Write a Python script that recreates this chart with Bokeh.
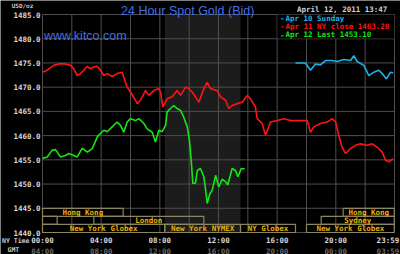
from bokeh.plotting import figure
from bokeh.models import Range1d, Label, BoxAnnotation, ColumnDataSource
from bokeh.core.properties import value
from bokeh.embed import file_html
from bokeh.resources import INLINE

# ---------------- data (hours, NY time) ----------------
apr11_time = [0.00, 0.32, 0.77, 1.11, 1.57, 1.91, 2.13, 2.37, 2.59, 2.82, 3.05, 3.27, 3.50, 3.73,
              3.95, 4.18, 4.41, 4.75, 5.09, 5.43, 5.54, 5.77, 6.00, 6.34, 6.46, 6.68, 7.02, 7.25,
              7.59, 7.93, 8.05, 8.20, 8.50, 8.84, 9.18, 9.41, 9.75, 9.98, 10.21, 10.66, 11.00,
              11.23, 11.45, 11.91, 12.14, 12.48, 12.70, 12.93, 13.27, 13.62, 13.96, 14.18, 14.52,
              14.64, 14.98, 15.20, 15.55, 16.00, 16.45, 16.91, 18.05, 18.27, 18.50, 18.95, 19.41,
              19.75, 19.98, 20.20, 20.43, 20.66, 21.00, 21.34, 21.68, 22.14, 22.48, 22.82, 23.16,
              23.39, 23.61, 23.91]
apr11_price = [1473.1, 1473.5, 1474.5, 1474.8, 1474.8, 1474.5, 1473.8, 1472.4, 1472.8, 1473.5,
               1474.3, 1473.8, 1474.2, 1474.3, 1473.5, 1472.4, 1472.8, 1472.2, 1472.8, 1473.1,
               1472.1, 1470.0, 1469.0, 1467.3, 1466.6, 1467.3, 1469.3, 1468.3, 1469.3, 1469.7,
               1469.0, 1465.9, 1467.6, 1468.0, 1469.3, 1468.3, 1470.0, 1469.7, 1469.0, 1466.9,
               1469.7, 1471.0, 1469.7, 1469.3, 1468.0, 1467.3, 1465.6, 1466.2, 1466.6, 1466.9,
               1468.3, 1467.6, 1465.9, 1463.5, 1462.5, 1460.1, 1462.8, 1463.1, 1463.5, 1463.1,
               1463.1, 1460.7, 1461.8, 1462.5, 1462.8, 1463.5, 1462.8, 1460.1, 1457.6, 1456.3,
               1457.3, 1458.0, 1458.3, 1458.0, 1458.3, 1457.6, 1456.6, 1454.9, 1454.6, 1455.2]

apr12_time = [0.00, 0.32, 0.66, 0.89, 1.23, 1.57, 1.79, 2.05, 2.37, 2.71, 3.05, 3.39, 3.73, 3.84,
              4.18, 4.41, 4.75, 5.09, 5.32, 5.54, 5.77, 6.00, 6.34, 6.57, 6.91, 7.14, 7.48, 7.70,
              7.93, 8.16, 8.39, 8.50, 8.73, 8.95, 9.18, 9.41, 9.63, 9.87, 10.02, 10.14, 10.25,
              10.43, 10.55, 10.77, 11.00, 11.11, 11.23, 11.41, 11.57, 11.80, 12.02, 12.25, 12.48,
              12.63, 12.93, 13.16, 13.32, 13.55, 13.79]
apr12_price = [1455.3, 1455.6, 1457.0, 1457.1, 1455.6, 1455.9, 1456.3, 1456.0, 1455.6, 1457.4,
               1456.6, 1457.3, 1459.7, 1460.1, 1461.1, 1460.8, 1461.8, 1462.8, 1462.1, 1460.7,
               1462.8, 1463.5, 1463.1, 1463.5, 1462.5, 1461.4, 1460.7, 1458.7, 1461.1, 1460.8,
               1462.1, 1464.9, 1465.6, 1466.2, 1465.6, 1465.2, 1463.8, 1461.8, 1459.0, 1454.9,
               1450.1, 1450.2, 1452.8, 1453.2, 1451.5, 1449.1, 1446.0, 1448.0, 1448.7, 1451.8,
               1449.4, 1451.0, 1450.5, 1449.8, 1453.2, 1452.8, 1451.5, 1453.2, 1453.1]

apr10_time = [17.25, 17.93, 18.27, 18.61, 18.95, 19.30, 19.75, 20.09, 20.54, 21.00, 21.23, 21.45,
              21.91, 22.25, 22.59, 22.93, 23.16, 23.45, 23.73, 23.91]
apr10_price = [1475.0, 1475.0, 1473.5, 1474.8, 1474.6, 1475.5, 1475.5, 1475.3, 1475.7, 1475.5,
               1476.5, 1475.3, 1474.5, 1472.4, 1473.1, 1473.5, 1472.8, 1471.7, 1473.1, 1472.9]

ny_close = 1463.20
last_price = 1453.10

y_ticks = [1440, 1445, 1450, 1455, 1460, 1465, 1470, 1475, 1480, 1485]
x_grid_ticks = [0, 2, 4, 6, 8, 10, 12, 14, 16, 18, 20, 22, 24]
x_label_ticks = [0, 4, 8, 12, 16, 20, 23.55]
ny_labels = ["00:00", "04:00", "08:00", "12:00", "16:00", "20:00", "23:59"]
gmt_labels = ["04:00", "08:00", "12:00", "16:00", "20:00", "00:00", "03:59"]

sess_name = ["Hong Kong", "Hong Kong", "", "London", "Sydney",
             "New York Globex", "New York NYMEX", "NY Globex", "New York Globex"]
sess_row = [0, 0, 1, 1, 1, 2, 2, 2, 2]
sess_start = [0.0, 20.5, 0.0, 3.5, 19.0, 0.0, 8 + 20 / 60, 13.5, 18.0]
sess_end = [5.5, 23 + 59 / 60, 1.0, 11.0, 23 + 59 / 60, 8 + 20 / 60, 13.5, 17.25, 23 + 59 / 60]

# ---------------- layout helpers (pixel -> data, for placing text) ----------------
W, H = 400, 254
L, R, T, B = 42, 6, 14, 22
X0, X1 = 0, 24
Y0, Y1 = 1440, 1485


def X(px):
    return X0 + (px - L) / (W - L - R) * (X1 - X0)


def Y(py):
    return Y1 - (py - T) / (H - T - B) * (Y1 - Y0)


MONO = "DejaVu Sans Mono"
GRID = "#4e4e4e"
RED = "#ff1414"
GREEN = "#14e614"
CYAN = "#1cb2ec"
BLUE = "#4470e6"
GOLD = "#e8b000"
BOXC = "#8a8660"
FS = "7.5px"

# the frame covers the whole canvas; the chart area (0..24 h, 1440..1485) sits inside it
p = figure(width=W, height=H, output_backend="svg", toolbar_location=None, title=None,
           x_range=Range1d(X(0), X(W)), y_range=Range1d(Y(H), Y(0)),
           min_border=0, min_border_left=0, min_border_right=0, min_border_top=0,
           min_border_bottom=0, x_axis_location=None, y_axis_location=None,
           background_fill_color="black", border_fill_color="black", outline_line_color=None)
p.xgrid.visible = False
p.ygrid.visible = False

# NYMEX shading (from session data)
ny_i = sess_name.index("New York NYMEX")
p.quad(left=[sess_start[ny_i]], right=[sess_end[ny_i]], bottom=[Y0], top=[Y1],
       fill_color="#1c1c1c", line_color=None)

# grid lines
p.segment(x0=x_grid_ticks, x1=x_grid_ticks, y0=[Y0] * len(x_grid_ticks),
          y1=[Y1] * len(x_grid_ticks), line_color=GRID, line_width=1)
p.segment(x0=[X0] * len(y_ticks), x1=[X1] * len(y_ticks), y0=y_ticks, y1=y_ticks,
          line_color=GRID, line_width=1)

# y tick labels
p.text(x=[X(40)] * len(y_ticks), y=y_ticks, text=["%.1f" % v for v in y_ticks],
       text_font=value(MONO), text_font_size=value(FS), text_font_style="bold",
       text_color="#d8d8d8", text_align="right", text_baseline="middle")
# x tick labels (NY time and GMT)
p.text(x=x_label_ticks, y=[Y(240)] * len(x_label_ticks), text=ny_labels,
       text_font=value(MONO), text_font_size=value(FS), text_font_style="bold",
       text_color="#d8d8d8", text_align="center", text_baseline="middle")
p.text(x=x_label_ticks, y=[Y(250.5)] * len(x_label_ticks), text=gmt_labels,
       text_font=value(MONO), text_font_size=value(FS), text_font_style="bold",
       text_color="#6a6a6a", text_align="center", text_baseline="middle")

# session boxes
row_h = 5 / 3
sess_src = ColumnDataSource(dict(
    left=sess_start, right=sess_end,
    top=[Y0 + 5 - r * row_h for r in sess_row],
    bottom=[Y0 + 5 - (r + 1) * row_h for r in sess_row],
    xc=[(a + b) / 2 for a, b in zip(sess_start, sess_end)],
    yc=[Y0 + 5 - (r + 0.5) * row_h for r in sess_row],
    name=sess_name))
p.quad(left="left", right="right", top="top", bottom="bottom", source=sess_src,
       fill_color=None, line_color=BOXC, line_width=1.2)
p.text(x="xc", y="yc", text="name", source=sess_src, text_font=value(MONO),
       text_font_size=value(FS), text_font_style="bold", text_color=GOLD,
       text_align="center", text_baseline="middle")

# price lines
p.line(apr11_time, apr11_price, line_color=RED, line_width=1.6)
p.line(apr10_time, apr10_price, line_color=CYAN, line_width=1.6)
p.line(apr12_time, apr12_price, line_color=GREEN, line_width=1.6)

# legend box
p.add_layout(BoxAnnotation(left=16, right=24, bottom=1480, top=1485, fill_color="black",
                           fill_alpha=1.0, line_color=GRID, line_width=1, level="overlay"))
legend = [("Apr 10 Sunday", CYAN),
          ("Apr 11 NY close %.2f" % ny_close, RED),
          ("Apr 12 Last %.2f" % last_price, GREEN)]
for i, (txt, col) in enumerate(legend):
    yy = Y(17.5 + i * 8.3)
    p.add_layout(Label(x=X(279.5), y=yy, text="-", text_font=MONO, text_font_size=FS,
                       text_font_style="bold", text_color=col, text_baseline="middle",
                       level="overlay"))
    p.add_layout(Label(x=X(285), y=yy, text=txt, text_font=MONO, text_font_size=FS,
                       text_font_style="bold", text_color=col, text_baseline="middle",
                       level="overlay"))

# titles and other text
p.add_layout(Label(x=X(120.5), y=Y(10.5), text="24 Hour Spot Gold (Bid)",
                   text_font="Liberation Sans", text_font_size="12.5px", text_color=BLUE,
                   text_baseline="alphabetic"))
p.add_layout(Label(x=X(43.5), y=Y(35.5), text="www.kitco.com",
                   text_font="Liberation Sans", text_font_size="12.5px", text_color=BLUE,
                   text_baseline="alphabetic"))
p.add_layout(Label(x=X(296.5), y=Y(8.5), text="April 12, 2011 13:47", text_font=MONO,
                   text_font_size=FS, text_font_style="bold", text_color="#d0d0d0",
                   text_baseline="middle"))
p.add_layout(Label(x=X(22), y=Y(5), text="USD/oz", text_font=MONO, text_font_size="6px",
                   text_font_style="bold", text_color="#c8c8c8", text_baseline="middle",
                   text_align="center"))
p.add_layout(Label(x=X(1.5), y=Y(240.5), text="NY Time", text_font=MONO, text_font_size="6.5px",
                   text_font_style="bold", text_color="#c8c8c8", text_baseline="middle"))
p.add_layout(Label(x=X(7), y=Y(249.5), text="GMT", text_font=MONO, text_font_size="6.5px",
                   text_font_style="bold", text_color="#c8c8c8", text_baseline="middle"))

open("out.html", "w").write(file_html(p, INLINE))
